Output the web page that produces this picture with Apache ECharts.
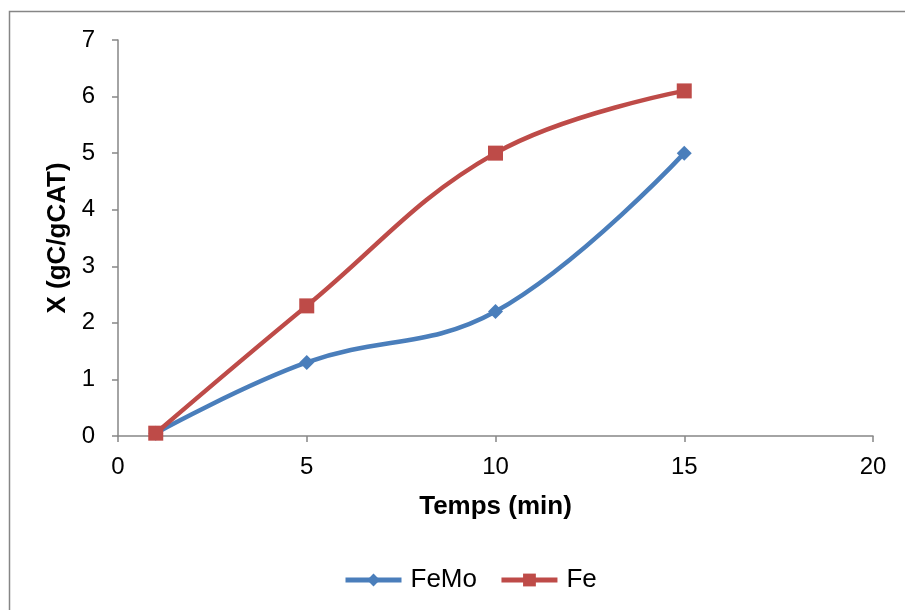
<!DOCTYPE html>
<html><head><meta charset="utf-8">
<script src="https://cdn.jsdelivr.net/npm/echarts@6/dist/echarts.min.js"></script>
<style>html,body{margin:0;padding:0;background:#fff}#c{width:905px;height:610px}</style>
</head><body><div id="c"></div>
<script>
const timeMin = [1, 5, 10, 15];
const femo = [0.05, 1.3, 2.2, 5.0];
const fe = [0.05, 2.3, 5.0, 6.1];
const xTicks = [0, 5, 10, 15, 20];
const yTicks = [0, 1, 2, 3, 4, 5, 6, 7];

const chart = echarts.init(document.getElementById('c'), null, {renderer: 'canvas'});
const font = 'Liberation Sans, Arial, sans-serif';
const axisCol = '#868686';
chart.setOption({
  animation: false,
  backgroundColor: '#fff',
  graphic: [{type: 'rect', shape: {x: 9.5, y: 11.5, width: 1000, height: 1000}, style: {fill: 'none', stroke: '#868686', lineWidth: 1.5}, silent: true}],
  grid: {left: 118, right: 32, top: 40, bottom: 174},
  xAxis: {
    type: 'value', min: xTicks[0], max: xTicks[xTicks.length-1], interval: 5,
    name: 'Temps (min)', nameLocation: 'middle', nameGap: 58,
    nameTextStyle: {fontFamily: font, fontSize: 26, fontWeight: 'bold', color: '#000'},
    axisLine: {show: true, lineStyle: {color: axisCol, width: 1.5}},
    axisTick: {show: true, length: 6, lineStyle: {color: axisCol, width: 1.5}},
    axisLabel: {fontFamily: font, fontSize: 24, color: '#000', margin: 19},
    splitLine: {show: false}
  },
  yAxis: {
    type: 'value', min: yTicks[0], max: yTicks[yTicks.length-1], interval: 1,
    name: 'X (gC/gCAT)', nameLocation: 'middle', nameGap: 47, nameRotate: 90,
    nameTextStyle: {fontFamily: font, fontSize: 26, fontWeight: 'bold', color: '#000'},
    axisLine: {show: true, lineStyle: {color: axisCol, width: 1.5}},
    axisTick: {show: true, length: 6, lineStyle: {color: axisCol, width: 1.5}},
    axisLabel: {fontFamily: font, fontSize: 24, color: '#000', margin: 23},
    splitLine: {show: false}
  },
  legend: {
    bottom: 17, left: 343, padding: 0, itemWidth: 56, itemHeight: 16, itemGap: 22,
    textStyle: {fontFamily: font, fontSize: 26, color: '#000', padding: [0, 0, 0, 4]},
    lineStyle: {width: 5},
    data: ['FeMo', 'Fe']
  },
  series: [
    {name: 'FeMo', type: 'line', smooth: 0.4, data: timeMin.map((t,i)=>[t, femo[i]]),
     symbol: 'diamond', symbolSize: 15, showSymbol: true,
     lineStyle: {color: '#4a7ebb', width: 4.5}, itemStyle: {color: '#4a7ebb'}},
    {name: 'Fe', type: 'line', smooth: 0.4, data: timeMin.map((t,i)=>[t, fe[i]]),
     symbol: 'rect', symbolSize: 15, showSymbol: true,
     lineStyle: {color: '#be4b48', width: 4.5}, itemStyle: {color: '#be4b48'}}
  ]
});
</script></body></html>
